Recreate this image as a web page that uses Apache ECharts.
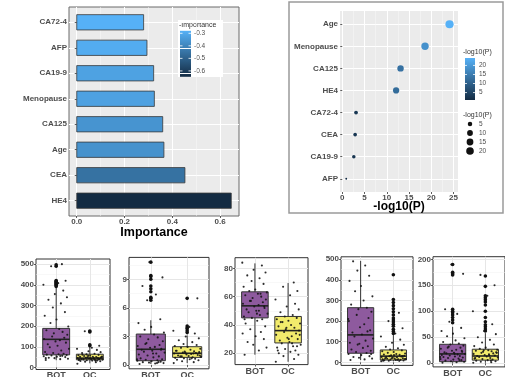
<!DOCTYPE html>
<html>
<head>
<meta charset="utf-8">
<script src="https://cdn.jsdelivr.net/npm/echarts@6/dist/echarts.min.js"></script>
<style>
  html, body { margin: 0; padding: 0; background: #fff; }
  #chart { width: 505px; height: 377px; }
</style>
</head>
<body>
<div id="chart"></div>
<script>
// ---- panel A: variable importance (top to bottom) ----
const impLabels = ['CA72-4', 'AFP', 'CA19-9', 'Menopause', 'CA125', 'Age', 'CEA', 'HE4'];
const impValues = [0.28, 0.294, 0.322, 0.325, 0.36, 0.365, 0.453, 0.647];
const impTicks = [0, 0.2, 0.4, 0.6];
const impLegendTicks = [-0.3, -0.4, -0.5, -0.6];

// ---- panel B: -log10(P) (top to bottom) ----
const pLabels = ['Age', 'Menopause', 'CA125', 'HE4', 'CA72-4', 'CEA', 'CA19-9', 'AFP'];
const pValues = [24.1, 18.6, 13.1, 12.1, 3.1, 2.9, 2.6, 0.9];
const pTicks = [0, 5, 10, 15, 20, 25];
const pLegendTicks = [20, 15, 10, 5];

// ---- bottom row: box plots, stats are [min, Q1, median, Q3, max] ----
const groupNames = ['BOT', 'OC'];

const p1Ticks = [0, 100, 200, 300, 400, 500];
const p1Bot = [35, 61, 136, 189, 388];
const p1Oc = [20, 37, 45, 64, 100];
const p1BotOut = [392, 398, 403, 408, 412, 417, 421, 490, 497];
const p1OcOut = [105, 110, 172, 176];
const p1BotPts = [36, 40, 42, 45, 47, 50, 52, 54, 56, 58, 60, 62, 64, 66, 70, 75, 82, 90, 98, 105, 112, 120, 126, 132, 138, 144, 150, 158, 165, 172, 180, 186, 198, 215, 232, 250, 268, 290, 310, 328, 340, 355, 372, 400, 408, 420, 490, 500, 45, 55];
const p1OcPts = [18, 25, 28, 30, 31, 33, 34, 35, 36, 37, 38, 39, 40, 41, 42, 43, 44, 45, 46, 47, 48, 49, 50, 51, 52, 53, 55, 57, 59, 61, 63, 66, 70, 74, 78, 85, 90, 95, 105, 175, 32, 38, 44, 50, 56, 62, 40, 46];

const p2Ticks = [0, 3, 6, 9];
const p2Bot = [0.1, 0.45, 1.65, 3.25, 4.7];
const p2Oc = [0.2, 0.8, 1.23, 1.92, 3.1];
const p2BotOut = [6.8, 7.0, 7.1, 7.7, 8.0, 8.3, 9.0, 9.3, 9.4, 10.8];
const p2OcOut = [3.4, 3.6, 3.8, 3.9, 4.1, 7.0];
const p2BotPts = [0.1, 0.15, 0.2, 0.25, 0.3, 0.35, 0.4, 0.45, 0.5, 0.55, 0.6, 0.7, 0.8, 0.9, 1.0, 1.1, 1.2, 1.3, 1.4, 1.5, 1.6, 1.7, 1.8, 1.9, 2.0, 2.1, 2.3, 2.5, 2.7, 2.9, 3.0, 3.2, 3.4, 3.7, 4.0, 4.4, 4.8, 6.8, 7.4, 8.3, 9.2, 10.8, 0.3, 0.6, 1.2, 1.6, 2.2, 0.2];
const p2OcPts = [0.2, 0.3, 0.4, 0.5, 0.55, 0.6, 0.65, 0.7, 0.75, 0.8, 0.85, 0.9, 0.95, 1.0, 1.05, 1.1, 1.15, 1.2, 1.25, 1.3, 1.35, 1.4, 1.45, 1.5, 1.6, 1.7, 1.8, 1.9, 2.0, 2.1, 2.2, 2.4, 2.6, 2.8, 3.0, 3.3, 3.6, 4.0, 7.0, 0.9, 1.2, 1.5, 0.7, 1.0, 1.3];

const p3Ticks = [20, 40, 60, 80];
const p3Bot = [19, 45, 53.5, 63.4, 83.5];
const p3Oc = [14, 27.3, 36, 46, 69.6];
const p3BotOut = [];
const p3OcOut = [];
const p3BotPts = [19, 22, 24, 26, 28, 30, 32, 34, 35, 37, 39, 41, 43, 44, 45, 46, 47, 48, 49, 50, 51, 52, 53, 54, 55, 56, 57, 58, 59, 60, 61, 62, 63, 64, 65, 67, 69, 71, 73, 75, 77, 79, 82, 84, 48, 53, 57, 62, 44, 50];
const p3OcPts = [14, 16, 18, 19, 20, 21, 22, 23, 24, 25, 26, 27, 28, 29, 30, 31, 32, 33, 34, 35, 36, 37, 38, 39, 40, 41, 42, 43, 44, 45, 46, 47, 49, 51, 53, 55, 58, 61, 64, 67, 70, 22, 27, 33, 38, 42, 25, 30];

const p4Ticks = [0, 100, 200, 300, 400, 500];
const p4Bot = [11, 44, 133, 265, 492];
const p4Oc = [5, 11, 30, 60, 132];
const p4BotOut = [];
const p4OcOut = [140, 150, 160, 175, 185, 195, 205, 215, 230, 245, 260, 275, 290, 305, 425];
const p4BotPts = [11, 14, 18, 22, 26, 30, 35, 40, 45, 50, 56, 62, 70, 78, 86, 95, 105, 115, 125, 135, 145, 155, 170, 185, 200, 215, 230, 245, 258, 265, 280, 300, 320, 345, 370, 395, 420, 445, 470, 490, 40, 90, 150, 210];
const p4OcPts = [5, 7, 8, 9, 10, 11, 12, 13, 14, 15, 16, 17, 18, 19, 20, 22, 24, 26, 28, 30, 32, 34, 36, 38, 40, 43, 46, 50, 54, 58, 62, 68, 75, 85, 95, 110, 125, 140, 165, 200, 240, 8, 12, 16, 20, 25, 30, 35];

const p5Ticks = [0, 50, 100, 150, 200];
const p5Bot = [1, 3, 18, 36.5, 70];
const p5Oc = [1, 6, 14, 27, 58];
const p5BotOut = [78, 83, 88, 93, 97, 100, 104, 170, 172, 175, 190];
const p5OcOut = [62, 66, 70, 74, 80, 88, 100, 112, 118, 122, 126, 130, 148, 168];
const p5BotPts = [1, 2, 3, 4, 5, 6, 7, 8, 9, 10, 11, 12, 13, 14, 15, 16, 17, 18, 19, 20, 21, 22, 24, 26, 28, 30, 32, 34, 36, 38, 41, 44, 48, 52, 57, 62, 68, 80, 95, 104, 172, 190, 6, 12, 18, 24, 30];
const p5OcPts = [1, 2, 3, 4, 5, 6, 7, 8, 9, 10, 11, 12, 13, 14, 15, 16, 17, 18, 19, 20, 21, 22, 23, 24, 25, 26, 28, 30, 33, 36, 40, 45, 50, 56, 62, 75, 100, 130, 150, 170, 5, 10, 15, 20, 25];

// hand-picked horizontal jitter offsets (category units)
const jitter = [-0.31, 0.12, 0.35, -0.05, -0.22, 0.27, 0.02, -0.37, 0.18, -0.14, 0.31, -0.28, 0.07, 0.22, -0.09, -0.33, 0.15, 0.38, -0.19, 0.04, -0.25, 0.29, -0.02, 0.11, -0.36, 0.24, -0.12, 0.33, -0.07, 0.19, -0.29, 0.09, 0.36, -0.17, 0.01, -0.34, 0.26, -0.1, 0.14, -0.23, 0.32, -0.04, 0.21, -0.38, 0.06, 0.28, -0.15, 0.17];

const boxPanels = [
  { bot: p1Bot, oc: p1Oc, botOut: p1BotOut, ocOut: p1OcOut, botPts: p1BotPts, ocPts: p1OcPts, ticks: p1Ticks },
  { bot: p2Bot, oc: p2Oc, botOut: p2BotOut, ocOut: p2OcOut, botPts: p2BotPts, ocPts: p2OcPts, ticks: p2Ticks },
  { bot: p3Bot, oc: p3Oc, botOut: p3BotOut, ocOut: p3OcOut, botPts: p3BotPts, ocPts: p3OcPts, ticks: p3Ticks },
  { bot: p4Bot, oc: p4Oc, botOut: p4BotOut, ocOut: p4OcOut, botPts: p4BotPts, ocPts: p4OcPts, ticks: p4Ticks },
  { bot: p5Bot, oc: p5Oc, botOut: p5BotOut, ocOut: p5OcOut, botPts: p5BotPts, ocPts: p5OcPts, ticks: p5Ticks },
];

// layout of the bottom panels (pixels + axis limits)
const boxLayout = [
  { left: 36, top: 259, width: 74, height: 110.5, min: -10, max: 525 },
  { left: 129, top: 257.4, width: 80, height: 111.4, min: -0.4, max: 11.3 },
  { left: 235, top: 257.7, width: 73, height: 106.9, min: 12, max: 87.5 },
  { left: 341, top: 256.8, width: 72, height: 108.6, min: -15, max: 512 },
  { left: 433, top: 256.7, width: 72, height: 110.2, min: -7, max: 205 },
];

const FONT = '"Liberation Sans", Arial, sans-serif';
const LOW = '#132B43';
const HIGH = '#56B1F7';
const boxFill = ['#8e5a9e', '#f2eb6c'];

function hexRgb(h) { return [1, 3, 5].map((i) => parseInt(h.substr(i, 2), 16)); }
// ggplot-like gradient from dark (t=0) to light blue (t=1)
function mix(t) {
  const a = hexRgb(LOW), b = hexRgb(HIGH);
  return 'rgb(' + a.map((v, i) => Math.round(v + (b[i] - v) * t)).join(',') + ')';
}

const impMin = Math.min(...impValues), impMax = Math.max(...impValues);
const impColor = (v) => mix((impMax - v) / (impMax - impMin)); // colour follows -Importance
const pMin = Math.min(...pValues), pMax = Math.max(...pValues);
const pColor = (v) => mix((v - pMin) / (pMax - pMin));
const pSize = (v) => 1.8 + 6.4 * Math.sqrt(Math.max(0, v - pMin) / (pMax - pMin));

// value axis with fixed step and explicit tick values
function axis(gi, min, max, ticks, fmt, o) {
  const step = ticks[1] - ticks[0];
  return {
    type: 'value', gridIndex: gi, min, max, minInterval: step, maxInterval: step,
    inverse: !!o.inverse,
    axisLine: { show: false },
    axisTick: { show: true, length: 2, customValues: ticks, lineStyle: { color: '#333', width: 0.8 } },
    axisLabel: {
      customValues: ticks, formatter: fmt, margin: 2,
      fontSize: o.fs || 8, fontWeight: 'bold', color: '#4d4d4d', fontFamily: FONT,
    },
    splitLine: { show: true, lineStyle: { color: o.major, width: o.majorW || 1 } },
    minorTick: { show: false, splitNumber: 2 },
    minorSplitLine: { show: !!o.minor, lineStyle: { color: o.minor || '#fff', width: 0.5 } },
  };
}

const idxTicks = [1, 2, 3, 4, 5, 6, 7, 8];
const grids = [
  { left: 69, top: 7, width: 170, height: 209, show: true, backgroundColor: '#EBEBEB', borderColor: '#6a6a6a', borderWidth: 1 },
  { left: 340, top: 11, width: 118, height: 181, show: true, backgroundColor: '#EBEBEB', borderWidth: 0 },
];
const xAxes = [
  axis(0, -0.0324, 0.6794, impTicks, (v) => v.toFixed(1), { major: '#fff', minor: '#f8f8f8' }),
  axis(1, -0.5, 26, pTicks, (v) => String(v), { major: '#fff', minor: '#f8f8f8' }),
];
const yAxes = [
  axis(0, 0.4, 8.6, idxTicks, (v) => impLabels[Math.round(v) - 1], { major: '#fff', inverse: true }),
  axis(1, 0.4, 8.6, idxTicks, (v) => pLabels[Math.round(v) - 1], { major: '#fff', inverse: true }),
];

const series = [
  {
    type: 'custom', xAxisIndex: 0, yAxisIndex: 0,
    encode: { x: 0, y: 1 },
    data: impValues.map((v, i) => [v, i + 1]),
    renderItem(params, api) {
      const v = api.value(0), i = api.value(1);
      const s = api.coord([0, i]), e = api.coord([v, i]);
      const h = api.size([0, 0.6])[1];
      return {
        type: 'rect',
        shape: { x: s[0], y: s[1] - h / 2, width: e[0] - s[0], height: h },
        style: { fill: impColor(v), stroke: '#3a3a3a', lineWidth: 0.8 },
      };
    },
  },
  {
    type: 'scatter', xAxisIndex: 1, yAxisIndex: 1,
    data: pValues.map((v, i) => [v, i + 1]),
    symbolSize: (val) => pSize(val[0]),
    itemStyle: { color: (p) => pColor(p.value[0]), opacity: 1 },
    emphasis: { disabled: true },
  },
];

boxPanels.forEach((p, k) => {
  const L = boxLayout[k];
  const gi = k + 2;
  grids.push({ left: L.left, top: L.top, width: L.width, height: L.height, show: true, backgroundColor: '#fff', borderColor: '#333', borderWidth: 1 });
  xAxes.push(axis(gi, 0.4, 2.6, [1, 2], (v) => groupNames[Math.round(v) - 1], { major: '#e6e6e6', fs: 9 }));
  yAxes.push(axis(gi, L.min, L.max, p.ticks, (v) => String(v), { major: '#e6e6e6', minor: '#f1f1f1' }));

  series.push({
    type: 'custom', xAxisIndex: gi, yAxisIndex: gi,
    encode: { x: 0, y: [1, 2, 3, 4, 5] },
    data: [[1, ...p.bot], [2, ...p.oc]],
    renderItem(params, api) {
      const x = api.value(0);
      const half = api.size([0.4, 0])[0];
      const lo = api.coord([x, api.value(1)]);
      const q1 = api.coord([x, api.value(2)]);
      const md = api.coord([x, api.value(3)]);
      const q3 = api.coord([x, api.value(4)]);
      const hi = api.coord([x, api.value(5)]);
      return {
        type: 'group',
        children: [
          { type: 'line', shape: { x1: lo[0], y1: lo[1], x2: hi[0], y2: hi[1] }, style: { stroke: '#333', lineWidth: 1 } },
          { type: 'rect', shape: { x: md[0] - half, y: q3[1], width: half * 2, height: q1[1] - q3[1] }, style: { fill: boxFill[x - 1], stroke: '#333', lineWidth: 1 } },
          { type: 'line', shape: { x1: md[0] - half, y1: md[1], x2: md[0] + half, y2: md[1] }, style: { stroke: '#222', lineWidth: 1.6 } },
        ],
      };
    },
  });
  series.push({
    type: 'scatter', xAxisIndex: gi, yAxisIndex: gi,
    data: p.botOut.map((v) => [1, v]).concat(p.ocOut.map((v) => [2, v])),
    symbolSize: 3.6,
    itemStyle: { color: '#111', opacity: 1 },
    emphasis: { disabled: true },
  });
  series.push({
    type: 'scatter', xAxisIndex: gi, yAxisIndex: gi,
    data: p.botPts.map((v, j) => [1 + jitter[j % jitter.length], v])
      .concat(p.ocPts.map((v, j) => [2 + jitter[(j + 7) % jitter.length], v])),
    symbolSize: 2.1,
    itemStyle: { color: '#151515', opacity: 0.9 },
    emphasis: { disabled: true },
  });
});

// ---- legends and titles ----
const graphic = [];
const txt = (x, y, text, o) => graphic.push({
  type: 'text', x, y,
  style: Object.assign({ text, fill: '#4d4d4d', fontSize: 7, fontFamily: FONT, textVerticalAlign: 'middle', verticalAlign: 'middle' }, o || {}),
});
const gradient = { type: 'linear', x: 0, y: 0, x2: 0, y2: 1, colorStops: [{ offset: 0, color: HIGH }, { offset: 1, color: LOW }] };

// panel A colour legend
graphic.push({ type: 'rect', shape: { x: 178, y: 20, width: 45, height: 57 }, style: { fill: '#fff' } });
txt(179, 25, '-Importance', { fill: '#333' });
const aTop = 30.8, aH = 46;
graphic.push({ type: 'rect', shape: { x: 180, y: aTop, width: 11, height: aH }, style: { fill: gradient } });
impLegendTicks.forEach((t) => {
  const y = aTop + (-impMin - t) / (impMax - impMin) * aH;
  graphic.push({ type: 'line', shape: { x1: 180, y1: y, x2: 182.5, y2: y }, style: { stroke: '#fff', lineWidth: 0.8 } });
  graphic.push({ type: 'line', shape: { x1: 188.5, y1: y, x2: 191, y2: y }, style: { stroke: '#fff', lineWidth: 0.8 } });
  txt(194, y, t.toFixed(1), { fontSize: 6.5 });
});

// panel B frame, colour legend and size legend
graphic.push({ type: 'rect', shape: { x: 289, y: 2, width: 214, height: 211 }, style: { fill: 'none', stroke: '#9a9a9a', lineWidth: 1.5 } });
graphic.push({ type: 'rect', shape: { x: 462, y: 47, width: 38, height: 56 }, style: { fill: '#fff' } });
txt(463, 52, '-log10(P)', { fill: '#333' });
const bTop = 58, bH = 42;
graphic.push({ type: 'rect', shape: { x: 465, y: bTop, width: 10, height: bH }, style: { fill: gradient } });
pLegendTicks.forEach((t) => {
  const y = bTop + (pMax - t) / (pMax - pMin) * bH;
  graphic.push({ type: 'line', shape: { x1: 465, y1: y, x2: 467, y2: y }, style: { stroke: '#fff', lineWidth: 0.8 } });
  graphic.push({ type: 'line', shape: { x1: 473, y1: y, x2: 475, y2: y }, style: { stroke: '#fff', lineWidth: 0.8 } });
  txt(479, y, String(t), { fontSize: 6.5 });
});
graphic.push({ type: 'rect', shape: { x: 462, y: 108, width: 38, height: 46 }, style: { fill: '#fff' } });
txt(463, 115, '-log10(P)', { fill: '#333' });
pLegendTicks.slice().reverse().forEach((t, i) => {
  const y = 124 + i * 9;
  graphic.push({ type: 'circle', shape: { cx: 470, cy: y, r: pSize(t) / 2 }, style: { fill: '#111' } });
  txt(479, y, String(t), { fontSize: 6.5 });
});

// axis titles
txt(154, 233, 'Importance', { fill: '#000', fontSize: 12.5, fontWeight: 'bold', textAlign: 'center', align: 'center' });
txt(399, 207, '-log10(P)', { fill: '#000', fontSize: 12, fontWeight: 'bold', textAlign: 'center', align: 'center' });

grids.forEach((g) => { g.containLabel = false; g.outerBoundsMode = 'none'; });

const chart = echarts.init(document.getElementById('chart'), null, { renderer: 'canvas' });
chart.setOption({
  animation: false,
  backgroundColor: '#fff',
  grid: grids,
  xAxis: xAxes,
  yAxis: yAxes,
  series,
  graphic: { elements: graphic },
});
</script>
</body>
</html>
